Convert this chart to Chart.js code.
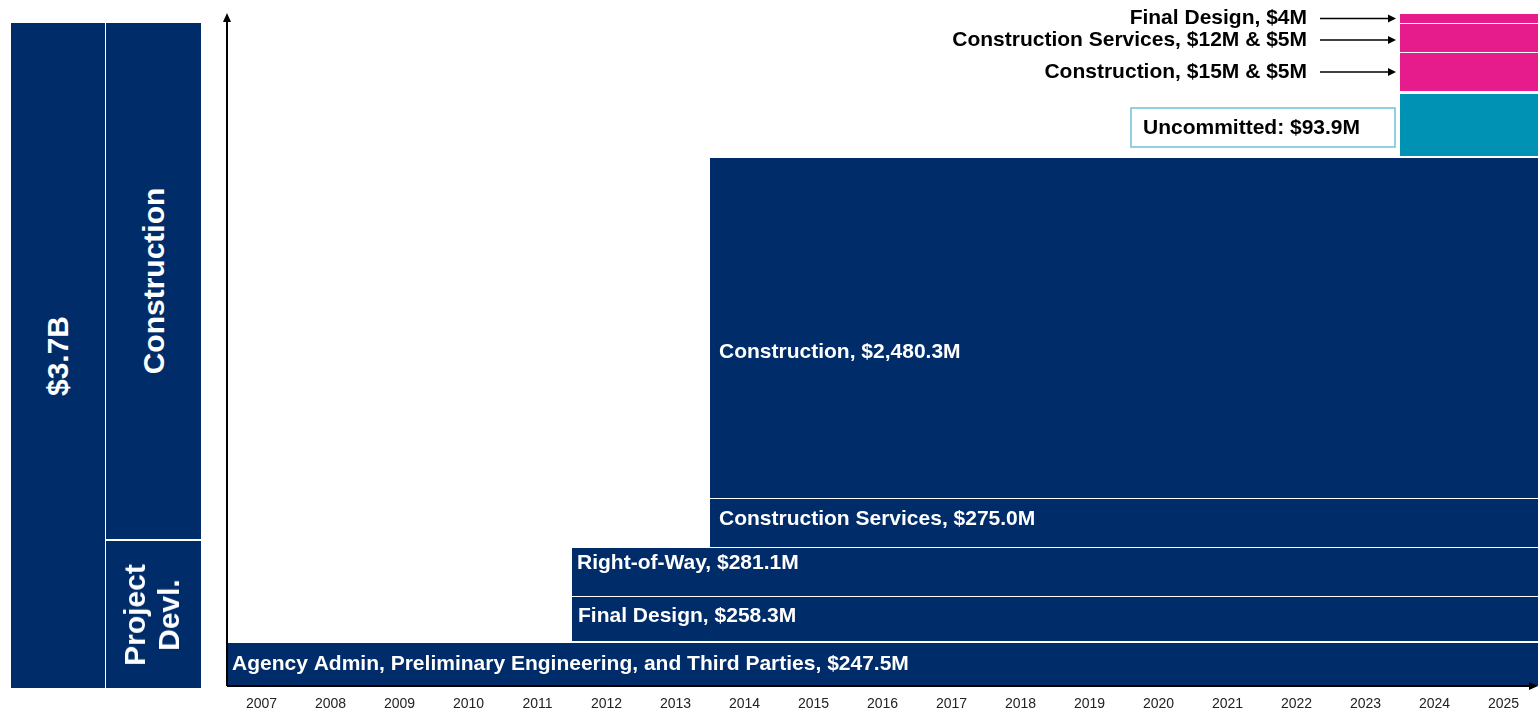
<!DOCTYPE html>
<html>
<head>
<meta charset="utf-8">
<script src="https://cdn.jsdelivr.net/npm/chart.js@4"></script>
<style>
  body { margin: 0; background: #fff; font-family: "Liberation Sans", Arial, sans-serif; }
  #wrap { position: relative; width: 1538px; height: 714px; overflow: hidden; }
  #myChart { position: absolute; left: 0; top: 0; }
  .box { position: absolute; background: #002d6a; color: #fff; font-weight: bold; font-size: 30px; }
  .rot { position: absolute; left: 50%; top: 50%; transform: translate(-50%, -50%) rotate(-90deg);
         white-space: nowrap; text-align: center; line-height: 34px; }
</style>
</head>
<body>
<div id="wrap">
  <canvas id="myChart" width="1538" height="714"></canvas>
  <div class="box" style="left:11px; top:23px; width:94px; height:665px;"><div class="rot">$3.7B</div></div>
  <div class="box" style="left:106px; top:23px; width:95px; height:516px;"><div class="rot">Construction</div></div>
  <div class="box" style="left:106px; top:541px; width:95px; height:147px;"><div class="rot" style="margin-left:-2px">Project<br>Devl.</div></div>
</div>
<script>
var years = [2007, 2008, 2009, 2010, 2011, 2012, 2013, 2014, 2015, 2016,
  2017, 2018, 2019, 2020, 2021, 2022, 2023, 2024, 2025];

// budget items, bottom to top
var bandNames = [
  "Agency Admin, Preliminary Engineering, and Third Parties",
  "Final Design",
  "Right-of-Way",
  "Construction Services",
  "Construction",
  "Uncommitted",
  "Construction",
  "Construction Services",
  "Final Design",
];
var bandAmounts = ["$247.5M", "$258.3M", "$281.1M", "$275.0M", "$2,480.3M", "$93.9M", "$15M & $5M", "$12M & $5M", "$4M"];
// first and last year covered (half-year edges)
var bandStart = [2006.5, 2011.5, 2011.5, 2013.5, 2013.5, 2023.5, 2023.5, 2023.5, 2023.5];
var bandEnd = [2025.5, 2025.5, 2025.5, 2025.5, 2025.5, 2025.5, 2025.5, 2025.5, 2025.5];
// schematic stack heights (not to scale)
var bandLow = [0, 45, 90, 139, 188, 530, 595, 634, 663];
var bandHigh = [43, 89, 138, 187, 528, 592, 633, 662, 672];
var bandKind = ["inside", "inside", "inside", "inside", "inside", "boxed", "arrow", "arrow", "arrow"];

var colors = { inside: "#002d6a", boxed: "#0092b5", arrow: "#e61b8c" };
// nudge for label baseline inside the tall bands (px)
var labelNudge = [0, -3, -9, -4, 24, 2, 0, 2, 0];
var labelInset = [5, 6, 5, 9, 9];

var bandPlugin = {
  id: "bands",
  beforeDatasetsDraw: function (chart) {
    var ctx = chart.ctx;
    var x = chart.scales.x;
    var y = chart.scales.y;
    ctx.save();
    for (var i = 0; i < bandNames.length; i++) {
      var left = x.getPixelForValue(bandStart[i]);
      var right = x.getPixelForValue(bandEnd[i]);
      var top = y.getPixelForValue(bandHigh[i]);
      var bottom = y.getPixelForValue(bandLow[i]);
      var mid = (top + bottom) / 2 + labelNudge[i];
      ctx.fillStyle = colors[bandKind[i]];
      ctx.fillRect(left, top, right - left, bottom - top);

      var text = bandNames[i] + (bandKind[i] == "boxed" ? ": " : ", ") + bandAmounts[i];
      ctx.font = "bold 21px 'Liberation Sans', Arial, sans-serif";
      ctx.textBaseline = "middle";
      if (bandKind[i] == "inside") {
        ctx.fillStyle = "#ffffff";
        ctx.textAlign = "left";
        ctx.fillText(text, left + labelInset[i], mid);
      } else if (bandKind[i] == "boxed") {
        ctx.strokeStyle = "#6fc0d6";
        ctx.lineWidth = 1.5;
        ctx.strokeRect(left - 269, mid - 19, 264, 39);
        ctx.fillStyle = "#000000";
        ctx.textAlign = "left";
        ctx.fillText(text, left - 257, mid + 1);
      } else {
        ctx.fillStyle = "#000000";
        ctx.textAlign = "right";
        ctx.fillText(text, left - 93, mid);
        ctx.strokeStyle = "#000000";
        ctx.lineWidth = 1.5;
        ctx.beginPath();
        ctx.moveTo(left - 80, mid);
        ctx.lineTo(left - 10, mid);
        ctx.stroke();
        ctx.beginPath();
        ctx.moveTo(left - 4, mid);
        ctx.lineTo(left - 12, mid - 4);
        ctx.lineTo(left - 12, mid + 4);
        ctx.closePath();
        ctx.fill();
      }
    }
    ctx.restore();
  },
  afterDraw: function (chart) {
    var ctx = chart.ctx;
    var a = chart.chartArea;
    ctx.save();
    ctx.strokeStyle = "#000";
    ctx.fillStyle = "#000";
    ctx.lineWidth = 2;
    ctx.beginPath();
    ctx.moveTo(a.left, a.bottom);
    ctx.lineTo(a.left, a.top + 6);
    ctx.moveTo(a.left, a.bottom);
    ctx.lineTo(a.right - 8, a.bottom);
    ctx.stroke();
    ctx.beginPath();
    ctx.moveTo(a.left, a.top - 1);
    ctx.lineTo(a.left - 4, a.top + 8);
    ctx.lineTo(a.left + 4, a.top + 8);
    ctx.closePath();
    ctx.fill();
    ctx.beginPath();
    ctx.moveTo(a.right, a.bottom);
    ctx.lineTo(a.right - 9, a.bottom - 4);
    ctx.lineTo(a.right - 9, a.bottom + 4);
    ctx.closePath();
    ctx.fill();
    ctx.restore();
  },
};

var ctx = document.getElementById("myChart").getContext("2d");
var myChart = new Chart(ctx, {
  type: "scatter",
  data: { datasets: [{ data: [], pointRadius: 0 }] },
  plugins: [bandPlugin],
  options: {
    responsive: false,
    animation: false,
    plugins: { legend: { display: false }, tooltip: { enabled: false } },
    layout: { padding: { left: 227, right: 0, top: 14, bottom: 0 } },
    scales: {
      x: {
        type: "linear",
        min: 2006.5,
        max: 2025.5,
        afterBuildTicks: function (axis) {
          axis.ticks = years.map(function (v) { return { value: v }; });
        },
        afterFit: function (axis) {
          axis.height = 28;
        },
        grid: { display: false, drawTicks: false },
        border: { display: false },
        ticks: {
          padding: 10,
          maxRotation: 0,
          autoSkip: false,
          color: "#222",
          font: { size: 14, family: "'Liberation Sans', Arial, sans-serif" },
          callback: function (v) { return String(v); },
        },
      },
      y: { type: "linear", min: 0, max: 672, display: false },
    },
  },
});
</script>
</body>
</html>
